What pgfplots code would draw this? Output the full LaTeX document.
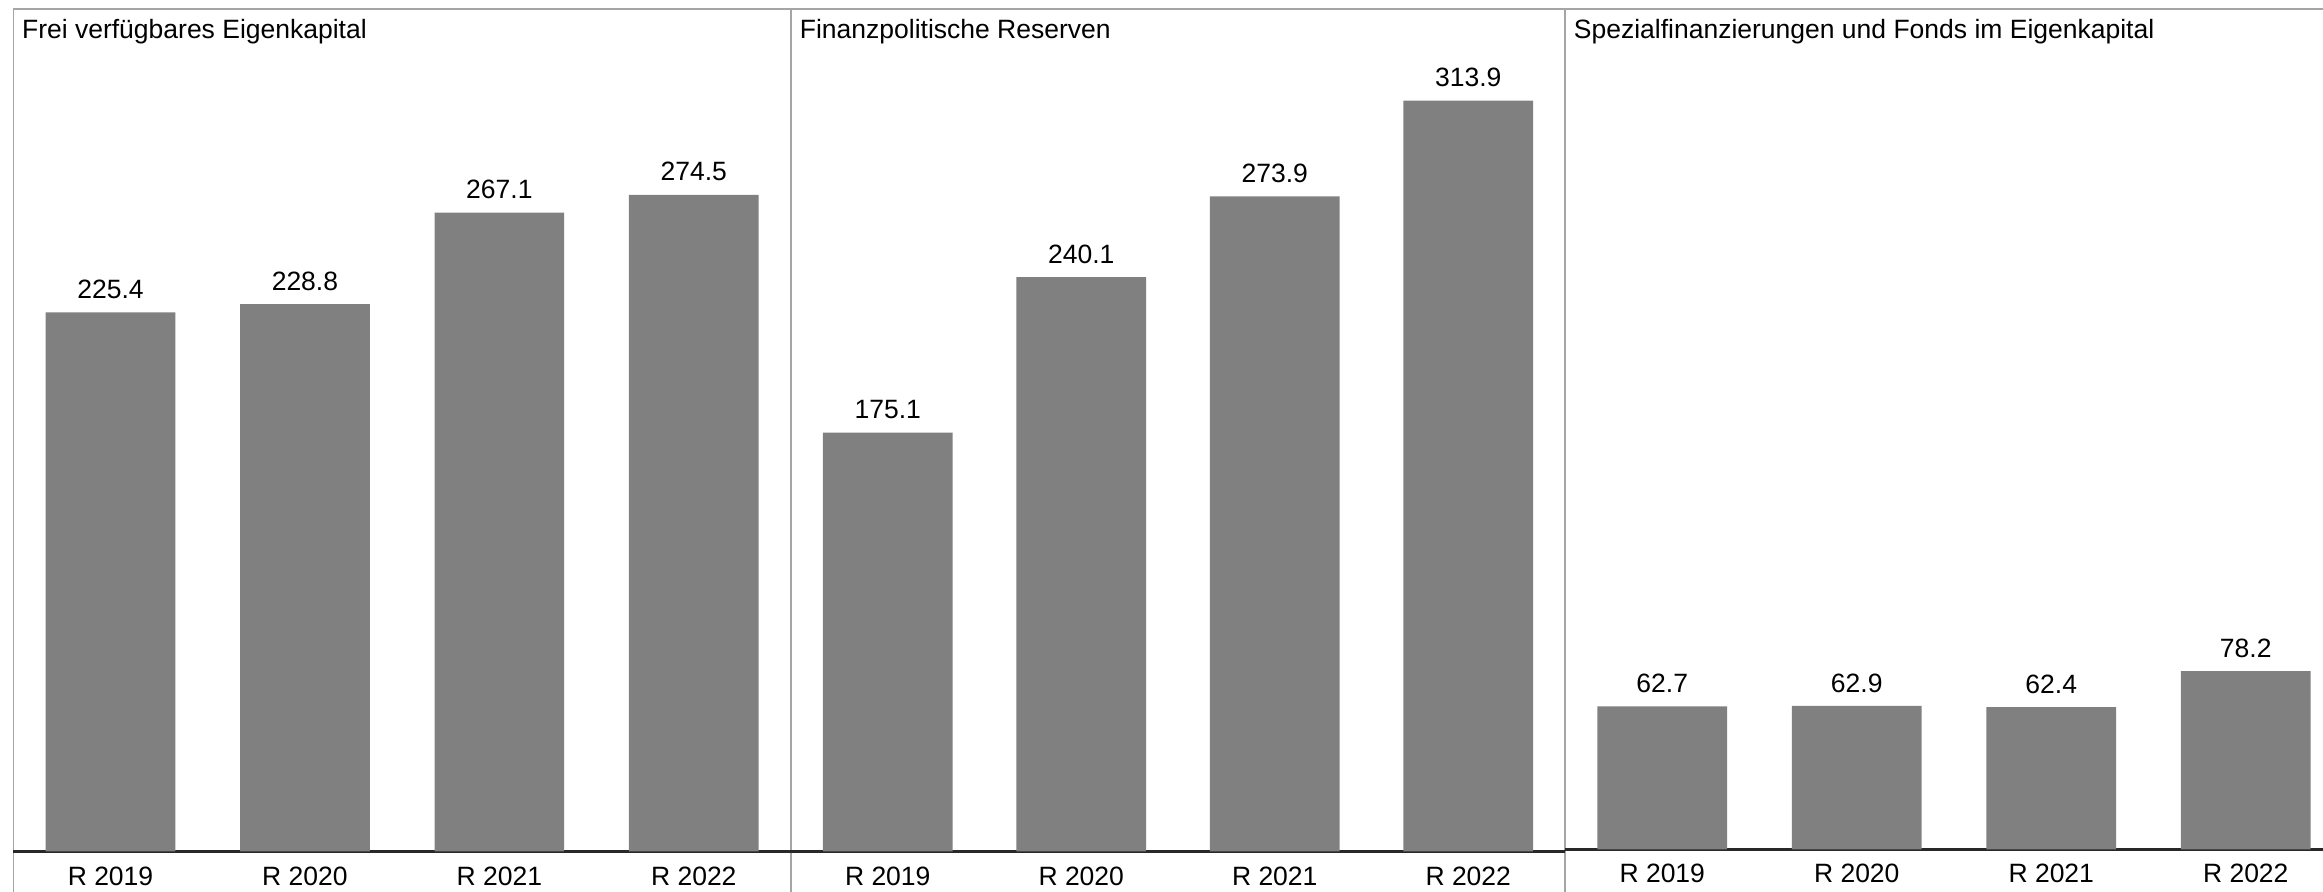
\documentclass[border=0pt]{standalone}
\usepackage{pgfplots}
\pgfplotsset{compat=1.18}
\usepackage{fontspec}
\setmainfont{Liberation Sans}
\definecolor{barc}{RGB}{128,128,128}
\definecolor{framec}{RGB}{165,165,165}
\definecolor{basec}{RGB}{40,40,40}
\begin{document}
\begin{tikzpicture}[font=\fontsize{13.25}{16}\selectfont]
\pgfplotsset{
  panel/.style={
    scale only axis, anchor=south west,
    xmin=-0.5, xmax=3.5, ymin=0,
    axis x line*=bottom, axis y line=none,
    x axis line style={-, line width=1.5pt, draw=basec},
    xtick={0,1,2,3}, xticklabels={R 2019,R 2020,R 2021,R 2022},
    major tick length=0pt,
    xticklabel style={anchor=base, yshift=-16.8pt, inner sep=0pt},
    ytick=\empty,
    /pgf/number format/.cd, fixed, fixed zerofill, precision=1, assume math mode=true, /pgfplots/.cd,
    nodes near coords,
    every node near coord/.append style={anchor=south, inner sep=0pt, yshift=6.6pt, text=black},
    ybar, bar width=64.85pt,
  }
}
% frame
\draw[framec, line width=0.75pt] (6.65pt,446pt-4.5pt) -- (1170pt,446pt-4.5pt);
\draw[framec, line width=0.75pt] (6.65pt,446pt-4.5pt) -- (6.65pt,-2pt);
\draw[framec, line width=0.75pt] (395.5pt,446pt-4.5pt) -- (395.5pt,-2pt);
\draw[framec, line width=0.75pt] (782.5pt,446pt-4.5pt) -- (782.5pt,-2pt);

\begin{axis}[panel, at={(6.65pt,20.25pt)}, width=388.85pt, height=421.25pt, ymax=352.2]
\addplot[fill=barc, draw=none] coordinates {(0,225.4) (1,228.8) (2,267.1) (3,274.5)};
\end{axis}

\begin{axis}[panel, at={(395.5pt,20.25pt)}, width=387pt, height=421.25pt, ymax=352.2]
\addplot[fill=barc, draw=none] coordinates {(0,175.1) (1,240.1) (2,273.9) (3,313.9)};
\end{axis}

\begin{axis}[panel, at={(782.5pt,21.35pt)}, width=389pt, height=420.15pt, ymax=368.6]
\addplot[fill=barc, draw=none] coordinates {(0,62.7) (1,62.9) (2,62.4) (3,78.2)};
\end{axis}

\node[anchor=base west, inner sep=0pt] at (10.85pt,426.8pt) {Frei verfügbares Eigenkapital};
\node[anchor=base west, inner sep=0pt] at (399.75pt,426.8pt) {Finanzpolitische Reserven};
\node[anchor=base west, inner sep=0pt] at (786.75pt,426.8pt) {Spezialfinanzierungen und Fonds im Eigenkapital};

\pgfresetboundingbox
\path[use as bounding box] (0,0) rectangle (1161.5pt,446pt);
\end{tikzpicture}
\end{document}
